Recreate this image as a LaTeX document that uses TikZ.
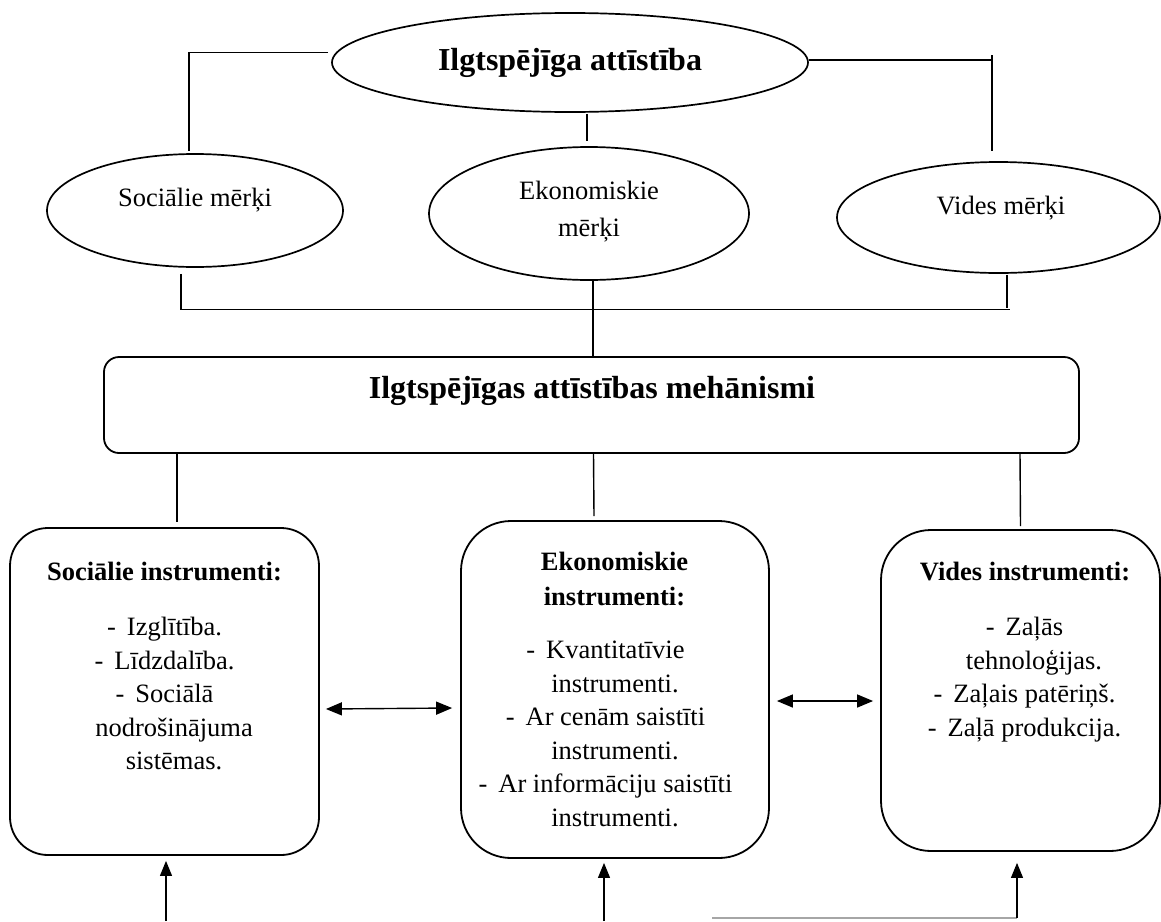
\documentclass[tikz,border=0pt]{standalone}
\usepackage{fontspec}
\setmainfont{Liberation Serif}
\usetikzlibrary{shapes.geometric,arrows.meta}

% list item dash with a wide gap, and a pad that keeps dash lines offset to the left
\newcommand{\dgap}{-\hspace{11pt}}
\newcommand{\tailpad}{\rule{19pt}{0pt}}

\begin{document}
\begin{tikzpicture}[x=1pt,y=-1pt,
  every node/.style={inner sep=0pt},
  oval/.style={draw, ellipse, line width=1.7pt},
  panel/.style={draw, rectangle, rounded corners=#1, line width=1.8pt},
  link/.style={line width=1.4pt},
  bus/.style={line width=1.8pt},
  dbl/.style={line width=1.4pt, {Triangle[length=16pt,width=13pt]}-{Triangle[length=16pt,width=13pt]}},
  up/.style={line width=1.1pt, -{Triangle[length=15pt,width=12pt]}},
  body/.style={font=\fontsize{26.5}{33.5}\selectfont, align=center},
  boxhead/.style={font=\bfseries\fontsize{26.5}{35}\selectfont, align=center},
  head/.style={font=\bfseries\fontsize{32}{38}\selectfont, align=center},
]
\useasboundingbox (0,0) rectangle (1161,921);

% goals
\node[oval, minimum width=476pt, minimum height=99pt, head] (goal) at (570,62.5) {Ilgtspējīga attīstība};
\node[oval, minimum width=296pt, minimum height=113pt] (soc) at (195,210.5) {};
\node[body] (soct) at (195,200) {Sociālie mērķi};
\node[oval, minimum width=320pt, minimum height=133pt] (eko) at (589,213.5) {};
\node[body, font=\fontsize{26.5}{37}\selectfont] (ekot) at (589,212) {Ekonomiskie\\mērķi};
\node[oval, minimum width=323pt, minimum height=111pt] (vid) at (998.5,217.5) {};
\node[body] (vidt) at (1001,208) {Vides mērķi};

% mechanisms
\node[panel=15pt, minimum width=975pt, minimum height=96pt] (mech) at (591.5,405) {};
\node[head] (mecht) at (592,391) {Ilgtspējīgas attīstības mehānismi};

% instrument boxes
\node[panel=38pt, minimum width=309pt, minimum height=327pt] (socbox) at (164.5,691.5) {};
\node[panel=50pt, minimum width=308pt, minimum height=337pt] (ekobox) at (615,689.5) {};
\node[panel=50pt, minimum width=279pt, minimum height=321pt] (vidbox) at (1020.5,690.5) {};

\node[boxhead, anchor=north] (soch) at (164.5,562) {Sociālie instrumenti:};
\node[body, anchor=north] (socl) at (174,617)
  {\dgap Izglītība.\tailpad\\ \dgap Līdzdalība.\tailpad\\ \dgap Sociālā\tailpad\\
   nodrošinājuma\\ sistēmas.};

\node[boxhead, anchor=north] (ekoh) at (614.5,552) {Ekonomiskie\\instrumenti:};
\node[body, anchor=north] (ekol) at (615,641)
  {\dgap Kvantitatīvie\tailpad\\ instrumenti.\\ \dgap Ar cenām saistīti\tailpad\\
   instrumenti.\\ \dgap Ar informāciju saistīti\tailpad\\ instrumenti.};

\node[boxhead, anchor=north] (vidh) at (1025,562) {Vides instrumenti:};
\node[body, anchor=north] (vidl) at (1034,617)
  {\dgap Zaļās\tailpad\\ tehnoloģijas.\\ \dgap Zaļais patēriņš.\tailpad\\
   \dgap Zaļā produkcija.\tailpad};

% links from the main goal
\draw[link] ([shift={(-3pt,10pt)}]goal.west) -| ([shift={(-6pt,2pt)}]soc.north);
\coordinate (vk) at (992,55);
\draw[link] ([yshift=2.5pt]goal.east) -| (vk);
\draw[link] (vk) -- ([shift={(-6.5pt,10pt)}]vid.north);
\draw[link] ([shift={(17pt,-1pt)}]goal.south) -- ([shift={(-2pt,5pt)}]eko.north);

% goals joined to the mechanisms
\coordinate (busR) at (1010,309.5);
\draw[bus] ([shift={(-14pt,-6pt)}]soc.south) |- (busR);
\draw[link] ([shift={(8.5pt,-1pt)}]vid.south) -- ++(0,33);
\draw[bus] ([xshift=4pt]eko.south) -- ([xshift=1.5pt]mech.north);

% mechanisms to instruments
\draw[link] ([xshift=-414.5pt]mech.south) -- ([shift={(12.5pt,5pt)}]socbox.north);
\draw[link] ([xshift=2pt]mech.south) -- ([shift={(-21pt,4pt)}]ekobox.north);
\draw[link] ([xshift=428.5pt]mech.south) -- ([shift={(0pt,3pt)}]vidbox.north);

% mutual links between instruments
\draw[dbl] ([shift={(6pt,-17.5pt)}]socbox.east) -- ([shift={(-8pt,-18.5pt)}]ekobox.west);
\draw[dbl] ([shift={(7pt,-11.5pt)}]ekobox.east) -- ([shift={(-7pt,-10.5pt)}]vidbox.west);

% inputs from below
\coordinate (inL) at (166,921);
\coordinate (inM) at (604,921);
\coordinate (inR) at (712,918);
\coordinate (cornerR) at (1017,918);
\draw[up] (inL) -- ([shift={(1.5pt,-5pt)}]socbox.south);
\draw[up] (inM) -- ([shift={(-11pt,-4pt)}]ekobox.south);
\draw[line width=1.3pt, gray!70] (inR) -- (cornerR);
\draw[up] (cornerR) -- ([shift={(-3.5pt,-11pt)}]vidbox.south);
\end{tikzpicture}
\end{document}
